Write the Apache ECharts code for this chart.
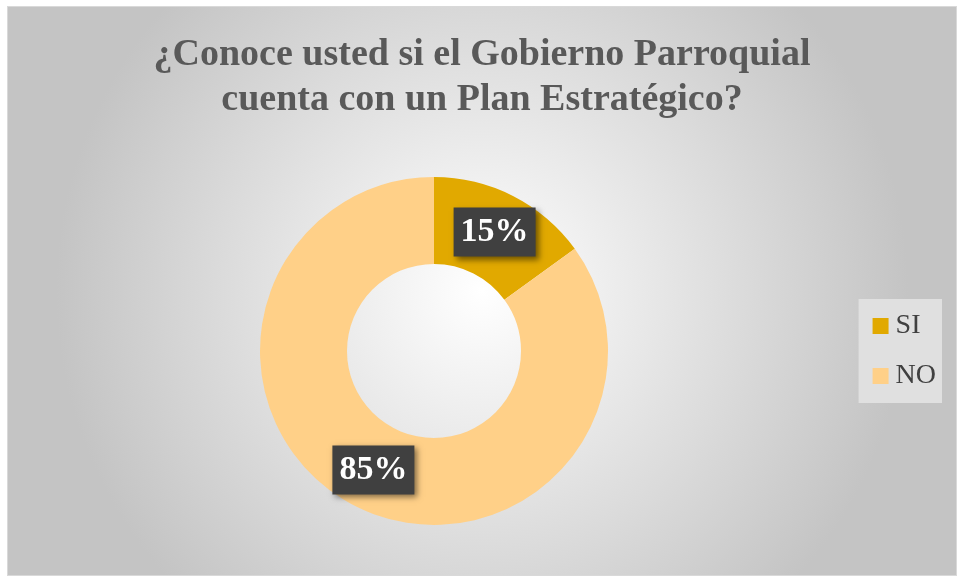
<!DOCTYPE html>
<html>
<head>
<meta charset="utf-8">
<script src="https://cdn.jsdelivr.net/npm/echarts@6/dist/echarts.min.js"></script>
<style>
  html, body { margin: 0; padding: 0; background: #ffffff; }
  #chart {
    position: absolute;
    left: 7px;
    top: 6px;
    width: 950px;
    height: 570px;
    border: 1px solid #d9d9d9;
    box-sizing: border-box;
  }
</style>
</head>
<body>
<div id="chart"></div>
<script>
  const categories = ['SI', 'NO'];
  const values = [15, 85];
  const sliceColors = ['#E1A900', '#FFD088'];

  const myChart = echarts.init(document.getElementById('chart'));

  const option = {
    backgroundColor: {
      type: 'radial',
      x: 0.5, y: 0.5, r: 0.75,
      colorStops: [
        {offset: 0, color: '#ffffff'},
        {offset: 1, color: '#c4c4c4'}
      ]
    },
    title: {
      text: '¿Conoce usted si el Gobierno Parroquial\ncuenta con un Plan Estratégico?',
      left: 'center',
      top: 21,
      padding: [5, 0, 5, 12],
      textStyle: {
        fontFamily: 'Liberation Serif',
        fontWeight: 'bold',
        fontSize: 38,
        lineHeight: 45,
        color: '#595959'
      }
    },
    legend: {
      orient: 'vertical',
      right: 14,
      top: 292,
      itemWidth: 16,
      itemHeight: 16,
      itemGap: 22,
      padding: [13, 6, 13, 14],
      backgroundColor: '#e0e0e0',
      icon: 'rect',
      textStyle: {
        fontFamily: 'Liberation Serif',
        fontSize: 28,
        color: '#404040',
        padding: [0, 0, 0, 2]
      },
      data: categories
    },
    series: [{
      type: 'pie',
      center: [426, 344],
      radius: [87, 174],
      startAngle: 90,
      clockwise: true,
      avoidLabelOverlap: false,
      silent: true,
      color: sliceColors,
      label: {
        show: true,
        position: 'inside',
        formatter: '{d}%',
        fontFamily: 'Liberation Serif',
        fontWeight: 'bold',
        fontSize: 34,
        color: '#ffffff',
        backgroundColor: '#404040',
        padding: [9, 7, 6, 7],
        shadowColor: 'rgba(0,0,0,0.5)',
        shadowBlur: 6,
        shadowOffsetX: 3,
        shadowOffsetY: 3
      },
      labelLine: {show: false},
      data: categories.map((c, i) => ({name: c, value: values[i]}))
    }]
  };

  myChart.setOption(option);
</script>
</body>
</html>
